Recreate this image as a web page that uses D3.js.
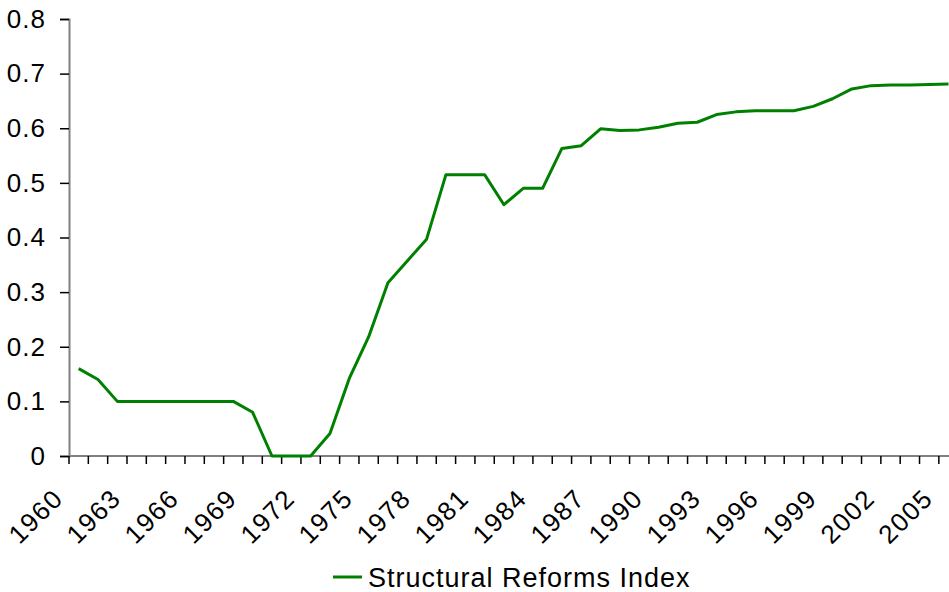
<!DOCTYPE html>
<html>
<head>
<meta charset="utf-8">
<script src="https://cdn.jsdelivr.net/npm/d3@7"></script>
<style>
  body { margin: 0; background: #fff; }
  text { font-family: "Liberation Sans", Arial, sans-serif; fill: #000; }
</style>
</head>
<body>
<div id="chart"></div>
<script>
// Années (catégories) et valeurs de l'indice
const years = d3.range(1960, 2006);
const reformIndex = [
    0.160, 0.140, 0.100, 0.100, 0.100, 0.100, 0.100, 0.100, 0.100, 0.080,
    0.000, 0.000, 0.000, 0.041, 0.142, 0.218, 0.317, 0.357, 0.397, 0.515,
    0.515, 0.515, 0.460, 0.490, 0.490, 0.563, 0.568, 0.599, 0.596, 0.597,
    0.602, 0.609, 0.611, 0.625, 0.630, 0.632, 0.632, 0.632, 0.640, 0.654,
    0.672, 0.678, 0.679, 0.679, 0.680, 0.681
];
const yTicks = [0, 0.1, 0.2, 0.3, 0.4, 0.5, 0.6, 0.7, 0.8];
const labelYears = years.filter(y => (y - 1960) % 3 === 0);
const seriesName = 'Structural Reforms Index';

const width = 949;
const height = 592;
const plotLeft = 69, plotTop = 19, plotBottom = 456;
const step = 19.33;

const svg = d3.select('#chart')
    .append('svg')
    .attr('width', width)
    .attr('height', height);

const x = d3.scaleBand()
    .domain(years)
    .range([plotLeft, plotLeft + years.length * step]);

const y = d3.scaleLinear()
    .domain([0, 0.8])
    .range([plotBottom, plotTop]);

// Axe vertical
const yAxis = svg.append('g')
    .attr('transform', `translate(${plotLeft},0)`)
    .call(d3.axisLeft(y)
        .tickValues(yTicks)
        .tickSize(9)
        .tickPadding(15)
        .tickFormat(d => d === 0 ? '0' : d3.format('.1f')(d)));
yAxis.select('.domain').attr('stroke', '#808080').attr('stroke-width', 2);
yAxis.selectAll('.tick line').attr('stroke', '#000').attr('stroke-width', 1.5);
yAxis.selectAll('.tick text')
    .style('font-size', '26px')
    .style('letter-spacing', '1px')
    .attr('dx', '1px')
    .attr('font-family', null);

// Axe horizontal : ligne de base + graduations entre les catégories
const lastYear = years[years.length - 1];
svg.append('line')
    .attr('x1', plotLeft).attr('x2', x.range()[1])
    .attr('y1', plotBottom).attr('y2', plotBottom)
    .attr('stroke', '#808080').attr('stroke-width', 2);

svg.append('g')
    .selectAll('line')
    .data(years.concat([lastYear + 1]))
    .enter().append('line')
    .attr('x1', d => d <= lastYear ? x(d) : x.range()[1])
    .attr('x2', d => d <= lastYear ? x(d) : x.range()[1])
    .attr('y1', plotBottom)
    .attr('y2', plotBottom + 8)
    .attr('stroke', '#000')
    .attr('stroke-width', 1.5);

svg.append('g')
    .selectAll('text')
    .data(labelYears)
    .enter().append('text')
    .attr('text-anchor', 'end')
    .attr('transform', d => `translate(${x(d) + x.bandwidth() / 2 - 14},${plotBottom + 44}) rotate(-45)`)
    .style('font-size', '26px')
    .style('letter-spacing', '1.5px')
    .text(d => d);

// Courbe
const line = d3.line()
    .x((d, i) => x(years[i]) + x.bandwidth() / 2)
    .y(d => y(d));

svg.append('path')
    .datum(reformIndex)
    .attr('fill', 'none')
    .attr('stroke', '#008000')
    .attr('stroke-width', 3)
    .attr('stroke-linejoin', 'round')
    .attr('d', line);

// Légende
svg.append('line')
    .attr('x1', 333).attr('x2', 362)
    .attr('y1', 577).attr('y2', 577)
    .attr('stroke', '#008000')
    .attr('stroke-width', 3);

svg.append('text')
    .attr('x', 368)
    .attr('y', 587)
    .style('font-size', '27px')
    .style('letter-spacing', '1px')
    .text(seriesName);
</script>
</body>
</html>
